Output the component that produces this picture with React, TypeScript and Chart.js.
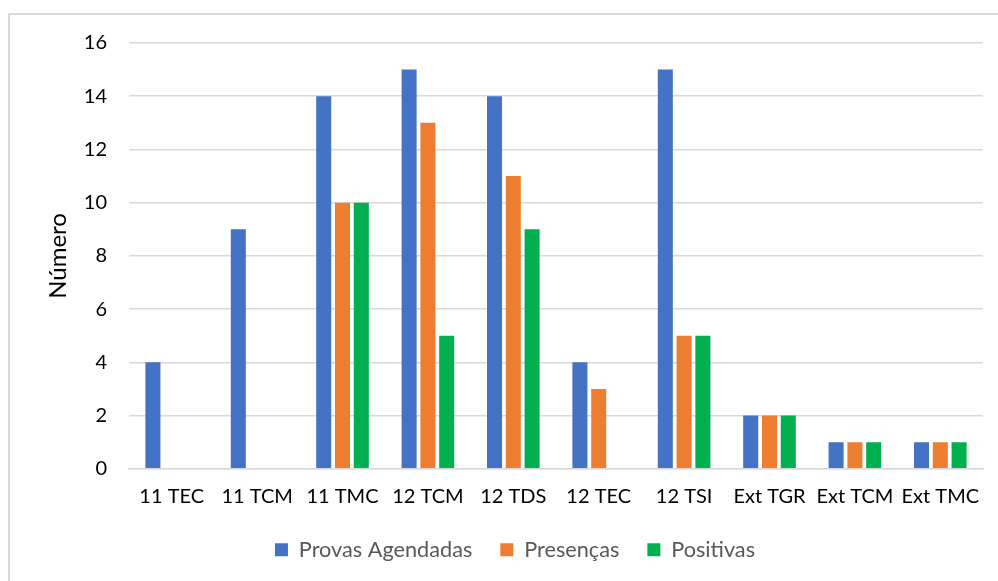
import React, { useEffect, useRef } from "react";
import { Chart, registerables } from "chart.js";

Chart.register(...registerables);

const categories = ["11 TEC", "11 TCM", "11 TMC", "12 TCM", "12 TDS", "12 TEC", "12 TSI", "Ext TGR", "Ext TCM", "Ext TMC"];
const provasAgendadas = [4, 9, 14, 15, 14, 4, 15, 2, 1, 1];
const presencas = [0, 0, 10, 13, 11, 3, 5, 2, 1, 1];
const positivas = [0, 0, 10, 5, 9, 0, 5, 2, 1, 1];
const seriesNames = ["Provas Agendadas", "Presenças", "Positivas"];
const yTicks = { min: 0, max: 16, step: 2 };
const yTitle = "Número";

const FONT = "Lato, 'Open Sans', sans-serif";

export default function App() {
  const ref = useRef<HTMLCanvasElement | null>(null);
  useEffect(() => {
    if (!ref.current) return;
    const chart = new Chart(ref.current, {
      type: "bar",
      data: {
        labels: categories,
        datasets: [
          { label: seriesNames[0], data: provasAgendadas, backgroundColor: "#4472C4" },
          { label: seriesNames[1], data: presencas, backgroundColor: "#ED7D31" },
          { label: seriesNames[2], data: positivas, backgroundColor: "#00B050" },
        ],
      },
      options: {
        responsive: false,
        animation: false,
        layout: { padding: { left: 37, right: 15, top: 28, bottom: 10.5 } },
        datasets: { bar: { categoryPercentage: 0.66, barPercentage: 0.8 } },
        plugins: {
          tooltip: { enabled: false },
          legend: {
            position: "bottom",
            labels: {
              boxWidth: 13,
              boxHeight: 13,
              padding: 28,
              color: "#595959",
              font: { family: FONT, size: 21.7 },
            },
          },
        },
        scales: {
          x: {
            afterFit: (s: any) => {
              s.height = 42;
            },
            grid: { display: false, drawTicks: false },
            border: { color: "#d9d9d9", width: 1.5 },
            ticks: {
              color: "#000",
              font: { family: FONT, size: 20 },
              padding: 16,
              maxRotation: 0,
              autoSkip: false,
            },
          },
          y: {
            min: yTicks.min,
            max: yTicks.max,
            afterFit: (s: any) => {
              s.width = 82;
              s.paddingTop = 0;
              s.paddingBottom = 0;
            },
            grid: { color: "#d9d9d9", lineWidth: 1.5, drawTicks: false },
            border: { display: false },
            ticks: {
              stepSize: yTicks.step,
              color: "#000",
              font: { family: FONT, size: 20 },
              padding: 22,
            },
            title: {
              display: true,
              text: yTitle,
              color: "#000",
              font: { family: FONT, size: 24 },
              padding: { top: -3, bottom: 0 },
            },
          },
        },
      },
    });
    return () => chart.destroy();
  }, []);
  return (
    <div style={{ position: "absolute", left: 8, top: 13, borderLeft: "2px solid #d9d9d9", borderTop: "2px solid #d9d9d9" }}>
      <canvas ref={ref} width={988} height={566} style={{ display: "block" }} />
    </div>
  );
}
